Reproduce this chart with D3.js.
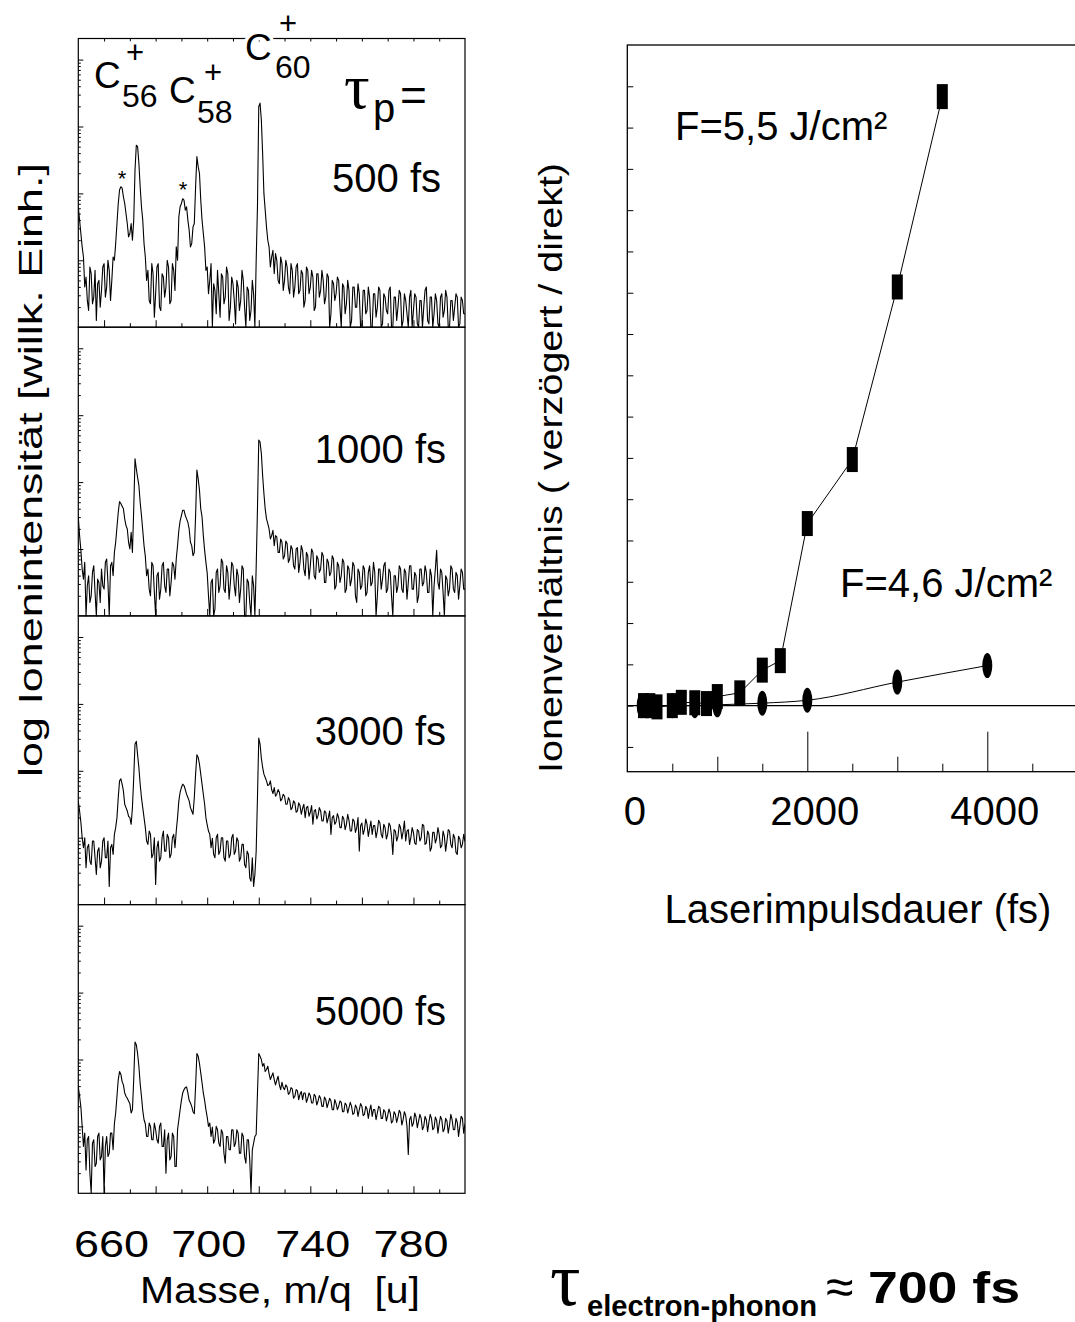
<!DOCTYPE html>
<html>
<head>
<meta charset="utf-8">
<script src="https://d3js.org/d3.v7.min.js"></script>
<style>
body { margin: 0; background: #fff; }
svg { display: block; font-family: "Liberation Sans", Arial, sans-serif; }
</style>
</head>
<body>
<div id="svg-holder"></div>
<script>
var width = 1075;
var height = 1322;

// ---- left: mass spectra, sampled every 0.5 u from 650 to 800 ----
var massStart = 650;
var massEnd = 800;
var massStep = 0.5;
var massLabels = [660, 700, 740, 780];
var pulseLabels = ["500 fs", "1000 fs", "3000 fs", "5000 fs"];

// log10 ion intensity (arb. units), one row = 10 u
var spec500 = [
  1.80,1.60, 1.40,1.20, 1.05,0.60, 0.75,0.40, 0.25,0.90, 0.80,0.35, 0.45,0.85, 0.10,0.65, 0.70,0.30, 0.55,0.90,
  0.95,0.45, 0.60,1.00, 0.85,0.40, 0.70,1.05, 1.00,1.25, 1.55,1.85, 2.05,2.10, 2.08,1.95, 1.85,1.70, 1.55,1.35,
  1.40,1.55, 1.30,1.60, 2.35,2.72, 2.70,2.45, 2.10,1.80, 1.60,1.25, 1.05,0.70, 0.85,0.40, 0.35,0.95, 0.80,0.15,
  0.50,0.90, 0.95,0.30, 0.25,0.80, 0.75,0.45, 0.60,1.00, 0.90,0.35, 0.40,0.95, 0.85,0.55, 1.20,1.00, 1.65,1.80,
  1.85,1.92, 1.90,1.75, 1.80,1.60, 1.45,1.20, 1.25,1.50, 1.55,2.10, 2.55,2.40, 2.30,1.90, 1.60,1.40, 1.20,0.85,
  0.90,0.50, 0.70,0.95, 0.00,0.65, 0.55,0.20, 0.85,0.50, 0.15,0.80, 0.75,0.35, 0.45,0.90, 0.80,0.10, 0.30,0.75,
  0.65,0.40, 0.05,0.70, 0.60,0.25, 0.40,0.85, 0.70,0.30, 0.00,0.60, 0.55,0.10, 0.25,0.70, 0.50,0.00, 1.00,1.80,
  3.30,3.35, 3.10,2.60, 2.00,1.75, 1.50,1.30, 1.20,0.90, 1.05,1.15, 0.80,1.10, 1.00,0.70, 0.65,1.05, 0.95,0.55,
  0.70,1.00, 0.90,0.60, 0.50,0.95, 0.85,0.45, 0.60,0.90, 0.95,0.50, 0.55,0.85, 0.80,0.30, 0.40,0.90, 0.85,0.50,
  0.60,0.85, 0.75,0.25, 0.30,0.80, 0.80,0.45, 0.55,0.85, 0.70,0.35, 0.45,0.80, 0.75,0.00, 0.20,0.70, 0.65,0.40,
  0.50,0.75, 0.70,0.30, 0.00,0.65, 0.60,0.20, 0.35,0.70, 0.55,0.00, 0.10,0.60, 0.60,0.30, 0.30,0.65, 0.50,0.00,
  0.05,0.55, 0.55,0.20, 0.25,0.60, 0.45,0.00, 0.00,0.50, 0.50,0.15, 0.30,0.60, 0.55,0.00, 0.05,0.50, 0.45,0.25,
  0.20,0.55, 0.60,0.00, 0.00,0.45, 0.45,0.10, 0.30,0.55, 0.50,0.00, 0.10,0.50, 0.40,0.20, 0.00,0.45, 0.55,0.00,
  0.25,0.50, 0.45,0.05, 0.00,0.40, 0.40,0.00, 0.30,0.55, 0.60,0.10, 0.05,0.45, 0.45,0.00, 0.20,0.50, 0.40,0.05,
  0.00,0.45, 0.50,0.15, 0.25,0.55, 0.45,0.00, 0.00,0.40, 0.40,0.10, 0.30,0.50, 0.45,0.00, 0.05,0.45, 0.40,0.20,
  0.20
];
var spec1000 = [
  1.48,1.20, 0.98,0.70, 0.55,0.80, 0.00,0.45, 0.60,0.20, 0.30,0.65, 0.75,0.35, 0.00,0.55, 0.50,0.20, 0.70,0.45,
  0.40,0.80, 0.85,0.50, 0.00,0.75, 0.80,0.60, 0.95,1.10, 1.33,1.55, 1.71,1.68, 1.64,1.60, 1.45,1.35, 1.30,1.10,
  1.00,1.25, 0.95,1.60, 2.35,2.20, 2.07,1.95, 1.70,1.50, 1.28,1.05, 0.89,0.60, 0.70,0.40, 0.30,0.80, 0.75,0.35,
  0.00,0.60, 0.65,0.25, 0.40,0.75, 0.80,0.45, 0.35,0.70, 0.70,0.30, 0.50,0.80, 0.75,0.55, 0.85,1.05, 1.28,1.42,
  1.50,1.58, 1.58,1.50, 1.45,1.40, 1.30,1.10, 1.05,0.90, 0.95,1.50, 2.18,2.05, 1.88,1.60, 1.48,1.20, 0.98,0.80,
  0.64,0.30, 0.00,0.50, 0.55,0.00, 0.10,0.65, 0.70,0.35, 0.45,0.85, 0.80,0.40, 0.35,0.75, 0.65,0.25, 0.50,0.80,
  0.75,0.45, 0.30,0.70, 0.60,0.20, 0.40,0.75, 0.70,0.00, 0.00,0.55, 0.50,0.20, 0.00,0.60, 0.45,0.00, 0.73,1.60,
  2.63,2.60, 2.43,2.10, 1.83,1.60, 1.45,1.38, 1.30,1.15, 1.20,1.28, 1.05,1.20, 1.18,0.95, 0.95,1.15, 1.10,0.85,
  0.90,1.12, 1.08,0.80, 0.85,1.05, 1.00,0.75, 0.70,1.00, 1.02,0.65, 0.80,1.05, 0.98,0.70, 0.60,0.95, 0.90,0.55,
  0.75,1.00, 0.95,0.60, 0.55,0.90, 0.85,0.65, 0.70,0.95, 0.90,0.50, 0.50,0.85, 0.80,0.60, 0.65,0.90, 0.85,0.40,
  0.45,0.80, 0.75,0.50, 0.60,0.85, 0.80,0.35, 0.40,0.75, 0.70,0.45, 0.55,0.80, 0.75,0.30, 0.20,0.70, 0.65,0.40,
  0.45,0.75, 0.70,0.30, 0.35,0.65, 0.75,0.45, 0.50,0.80, 0.65,0.00, 0.30,0.70, 0.70,0.40, 0.55,0.75, 0.80,0.35,
  0.40,0.70, 0.65,0.30, 0.00,0.60, 0.60,0.35, 0.45,0.75, 0.70,0.40, 0.35,0.70, 0.65,0.25, 0.50,0.75, 0.75,0.40,
  0.40,0.65, 0.60,0.20, 0.30,0.70, 0.70,0.45, 0.50,0.75, 0.65,0.35, 0.35,0.70, 0.60,0.00, 0.45,0.70, 0.98,0.50,
  0.40,0.70, 0.65,0.35, 0.00,0.60, 0.55,0.30, 0.40,0.75, 0.70,0.40, 0.35,0.65, 0.60,0.25, 0.45,0.70, 0.65,0.40,
  0.40
];
var spec3000 = [
  1.54,1.40, 1.23,1.00, 0.85,1.00, 0.55,0.85, 0.90,0.65, 0.60,0.95, 0.95,0.70, 0.45,0.80, 0.85,0.55, 0.65,0.95,
  1.00,0.70, 0.70,0.95, 0.27,0.85, 0.90,0.75, 1.05,1.15, 1.30,1.60, 1.85,1.88, 1.80,1.70, 1.50,1.45, 1.40,1.32,
  1.30,1.20, 1.45,1.90, 2.40,2.44, 2.24,2.05, 1.80,1.60, 1.45,1.30, 1.15,0.95, 0.90,1.10, 1.05,0.70, 0.75,1.00,
  0.30,0.85, 0.95,0.65, 0.70,1.00, 1.10,0.80, 0.80,1.05, 1.00,0.70, 0.75,1.00, 1.05,0.85, 1.10,1.30, 1.55,1.68,
  1.75,1.80, 1.78,1.72, 1.65,1.60, 1.55,1.45, 1.40,1.35, 1.60,1.95, 2.24,2.20, 2.10,1.95, 1.80,1.65, 1.50,1.30,
  1.19,1.10, 1.05,0.85, 0.99,0.75, 0.70,1.00, 1.05,0.75, 0.80,1.00, 1.00,0.70, 0.65,0.95, 0.95,0.70, 0.75,1.00,
  1.05,0.75, 0.80,1.00, 0.95,0.65, 0.70,0.90, 0.90,0.60, 0.55,0.80, 0.75,0.40, 0.35,0.70, 0.27,0.45, 0.80,1.60,
  2.49,2.40, 2.19,2.05, 1.95,1.90, 1.85,1.78, 1.79,1.85, 1.72,1.66, 1.75,1.62, 1.65,1.72, 1.68,1.55, 1.58,1.65,
  1.62,1.50, 1.50,1.60, 1.56,1.42, 1.45,1.55, 1.52,1.38, 1.40,1.52, 1.48,1.35, 1.44,1.50, 1.30,1.45, 1.47,1.32,
  1.38,1.48, 1.20,1.40, 1.42,1.28, 1.33,1.45, 1.40,1.25, 1.25,1.40, 1.38,1.22, 1.30,1.40, 1.05,1.30, 1.33,1.20,
  1.24,1.36, 1.30,1.15, 1.15,1.32, 1.28,1.12, 1.20,1.35, 1.26,1.10, 1.10,1.28, 1.25,1.08, 1.15,1.30, 0.80,1.18,
  1.22,1.05, 1.12,1.28, 1.20,1.02, 1.14,1.25, 1.05,1.18, 1.18,1.00, 1.10,1.26, 1.22,1.05, 1.00,1.20, 1.15,0.98,
  1.05,1.22, 1.18,1.02, 0.75,1.12, 1.10,0.95, 1.02,1.20, 1.15,0.98, 1.09,1.25, 0.95,1.10, 1.12,0.90, 1.00,1.15,
  1.08,0.92, 0.90,1.12, 1.10,0.95, 1.00,1.20, 1.18,0.90, 0.92,1.10, 1.05,0.80, 0.85,1.08, 1.08,0.92, 0.99,1.15,
  1.05,0.85, 0.88,1.10, 1.02,0.80, 0.95,1.12, 1.10,0.90, 0.85,1.05, 1.00,0.78, 0.75,1.02, 0.98,0.85, 0.90,1.05,
  0.94
];
var spec5000 = [
  1.59,1.45, 1.29,1.00, 0.70,0.90, 0.35,0.80, 0.85,0.30, 0.00,0.75, 0.80,0.40, 0.45,0.85, 0.90,0.50, 0.55,0.85,
  0.00,0.70, 0.85,0.55, 0.60,0.90, 0.90,0.65, 1.04,1.20, 1.45,1.70, 1.82,1.78, 1.67,1.62, 1.50,1.45, 1.42,1.38,
  1.34,1.20, 1.25,1.70, 2.26,2.22, 2.09,1.90, 1.64,1.45, 1.24,1.10, 1.04,0.85, 0.85,1.05, 1.00,0.80, 0.80,1.05,
  0.95,0.80, 0.75,1.00, 1.05,0.70, 0.70,0.95, 0.30,0.80, 0.90,0.50, 0.55,0.90, 0.85,0.40, 0.40,0.95, 1.10,1.25,
  1.39,1.50, 1.55,1.58, 1.59,1.50, 1.39,1.35, 1.30,1.22, 1.19,1.60, 2.09,2.05, 1.94,1.80, 1.65,1.50, 1.39,1.25,
  1.14,1.00, 1.05,0.85, 0.99,0.75, 0.80,1.00, 0.95,0.75, 0.70,0.95, 0.90,0.60, 0.45,0.85, 0.85,0.65, 0.65,0.95,
  0.95,0.70, 0.75,0.95, 0.90,0.60, 0.60,0.90, 0.85,0.55, 0.45,0.80, 0.80,0.50, 0.00,0.65, 0.75,0.85, 0.88,1.50,
  2.09,2.05, 2.00,1.90, 1.94,1.82, 1.85,1.90, 1.79,1.70, 1.75,1.80, 1.70,1.62, 1.69,1.75, 1.62,1.55, 1.66,1.58,
  1.55,1.62, 1.59,1.48, 1.50,1.58, 1.56,1.42, 1.45,1.55, 1.53,1.40, 1.48,1.52, 1.40,1.50, 1.50,1.36, 1.42,1.50,
  1.46,1.35, 1.35,1.48, 1.45,1.32, 1.38,1.46, 1.42,1.30, 1.30,1.44, 1.40,1.28, 1.35,1.42, 1.38,1.25, 1.25,1.40,
  1.34,1.25, 1.30,1.38, 1.36,1.22, 1.22,1.35, 1.32,1.20, 1.28,1.36, 1.30,1.18, 1.20,1.32, 1.28,1.15, 1.25,1.34,
  1.30,1.16, 1.18,1.30, 1.26,1.12, 1.24,1.32, 1.15,1.25, 1.25,1.10, 1.20,1.30, 1.28,1.12, 1.12,1.25, 1.22,1.08,
  1.16,1.26, 1.20,1.05, 1.08,1.22, 1.18,1.06, 1.14,1.24, 1.20,1.02, 1.10,1.22, 1.16,1.00, 0.58,1.10, 1.15,1.00,
  1.05,1.20, 1.14,0.98, 1.08,1.18, 1.12,0.95, 1.00,1.15, 1.10,0.92, 1.06,1.18, 1.12,0.95, 0.98,1.14, 1.09,0.90,
  1.04,1.15, 1.10,0.92, 0.96,1.12, 1.08,0.90, 1.02,1.18, 1.10,0.95, 0.95,1.12, 1.06,0.85, 1.00,1.15, 1.12,0.90,
  1.04
];
var spectra = [spec500, spec1000, spec3000, spec5000];

// ---- right: ratio (delayed / direct) vs. pulse duration ----
var durF55 = [180, 250, 330, 500, 600, 750, 880, 1000, 1250, 1500, 1700, 2000, 2500, 3000, 3500];
var ratioF55 = [0, 0, -0.03, 0, 0.08, 0.07, 0.05, 0.22, 0.31, 0.86, 1.09, 4.41, 5.96, 10.14, 14.75];
var durF46 = [160, 220, 500, 750, 1000, 1500, 2000, 3000, 4000];
var ratioF46 = [0, 0, 0, 0, 0.02, 0.06, 0.13, 0.57, 0.97];
var durLabels = [0, 2000, 4000];

var svg = d3.select('#svg-holder').append('svg')
            .attr("width", width)
            .attr("height", height);

// ================= left panels =================
var panelLeft = 78.3, panelRight = 465;
var panelTop = 38.5, panelH = 288.7;
var decades = panelH / 66.9;

var x = d3.scaleLinear().domain([massStart, massEnd]).range([panelLeft, panelRight]);
var y = d3.scaleLog().domain([1, Math.pow(10, decades)]).range([panelH, 0]);

var logMajor = [10, 100, 1000, 10000];
var logMinor = [];
[1, 10, 100, 1000].forEach(function(p) {
    [2, 3, 4, 5, 6, 7, 8, 9].forEach(function(j) {
        if (p * j < Math.pow(10, decades)) logMinor.push(p * j);
    });
});

svg.append("clipPath").attr("id", "panelclip")
    .append("rect")
    .attr("x", panelLeft).attr("y", 0)
    .attr("width", panelRight - panelLeft).attr("height", panelH + 1);

var line = d3.line()
    .x(function(d, i) { return x(massStart + i * massStep); })
    .y(function(d) { return y(Math.pow(10, d)); });

function thin(g) {
    g.select(".domain").remove();
    g.selectAll("line").attr("stroke", "#000").attr("stroke-width", 1);
}

var labelBase = [153.2, 136.1, 129.1, 120.4];
var labelEnd = [441, 446, 446, 446];

spectra.forEach(function(spec, k) {
    var g = svg.append("g").attr("transform", "translate(0," + (panelTop + k * panelH) + ")");

    g.append("path")
        .datum(spec)
        .attr("clip-path", "url(#panelclip)")
        .attr("fill", "none")
        .attr("stroke", "#000")
        .attr("stroke-width", 1.1)
        .attr("stroke-linejoin", "round")
        .attr("d", line);

    // bottom ticks pointing inward
    g.append("g").attr("transform", "translate(0," + panelH + ")")
        .call(d3.axisBottom(x).tickValues(d3.range(660, 800, 20)).tickSize(-7).tickFormat(""))
        .call(thin);
    g.append("g").attr("transform", "translate(0," + panelH + ")")
        .call(d3.axisBottom(x).tickValues(d3.range(670, 800, 20)).tickSize(-4).tickFormat(""))
        .call(thin);

    // log ticks on the left
    g.append("g").attr("transform", "translate(" + panelLeft + ",0)")
        .call(d3.axisLeft(y).tickValues(logMajor).tickSize(-5).tickFormat(""))
        .call(thin);
    g.append("g").attr("transform", "translate(" + panelLeft + ",0)")
        .call(d3.axisLeft(y).tickValues(logMinor).tickSize(-2.5).tickFormat(""))
        .call(thin);

    if (k == 0) {
        g.append("g")
            .call(d3.axisTop(x).tickValues(d3.range(660, 800, 10)).tickSize(-3).tickFormat(""))
            .call(thin);
    }

    g.append("rect")
        .attr("x", panelLeft).attr("y", 0)
        .attr("width", panelRight - panelLeft).attr("height", panelH)
        .attr("fill", "none").attr("stroke", "#000").attr("stroke-width", 1.2);

    g.append("text")
        .attr("x", labelEnd[k]).attr("y", labelBase[k])
        .attr("text-anchor", "end")
        .attr("font-size", 40)
        .text(pulseLabels[k]);

    if (k == 3) {
        var shift = [7, 1, 2, -3];
        var ax = g.append("g").attr("transform", "translate(0," + panelH + ")")
            .call(d3.axisBottom(x).tickValues(massLabels).tickSize(0));
        ax.select(".domain").remove();
        ax.selectAll("text")
            .attr("y", 63.4).attr("dy", 0)
            .attr("dx", function(d, i) { return shift[i]; })
            .attr("font-size", 37)
            .attr("font-family", "Liberation Sans, Arial, sans-serif")
            .attr("fill", "#000")
            .attr("textLength", 75)
            .attr("lengthAdjust", "spacingAndGlyphs");
    }
});

// peak labels with white halo (they cut the frame)
function halo(t) {
    return t.attr("stroke", "#fff").attr("stroke-width", 7)
            .attr("paint-order", "stroke").attr("fill", "#000");
}
function ionLabel(cx, cy, sub, subx, suby, plusx, plusy) {
    halo(svg.append("text").attr("x", cx).attr("y", cy).attr("font-size", 37).text("C"));
    halo(svg.append("text").attr("x", subx).attr("y", suby).attr("font-size", 32).text(sub));
    halo(svg.append("text").attr("x", plusx).attr("y", plusy).attr("font-size", 31).text("+"));
}
ionLabel(94, 88.3, "56", 122, 107, 126, 63);
ionLabel(169, 103.3, "58", 197, 123, 204, 83);
ionLabel(245, 60, "60", 275, 78, 279, 34);

svg.append("text").attr("x", 344).attr("y", 108)
    .attr("font-family", "Liberation Serif, serif").attr("font-size", 64).text("τ");
svg.append("text").attr("x", 373).attr("y", 122).attr("font-size", 40).text("p");
svg.append("text").attr("x", 400).attr("y", 111).attr("font-size", 46).text("=");

svg.append("text").attr("x", 122).attr("y", 186).attr("font-size", 22).attr("text-anchor", "middle").text("*");
svg.append("text").attr("x", 183).attr("y", 197).attr("font-size", 22).attr("text-anchor", "middle").text("*");

svg.append("text")
    .attr("transform", "translate(42,470) rotate(-90)")
    .attr("text-anchor", "middle")
    .attr("font-size", 34)
    .attr("textLength", 614)
    .attr("lengthAdjust", "spacingAndGlyphs")
    .text("log Ionenintensität [willk. Einh.]");

svg.append("text")
    .attr("x", 140).attr("y", 1303)
    .attr("font-size", 37)
    .attr("textLength", 280)
    .attr("lengthAdjust", "spacingAndGlyphs")
    .style("white-space", "pre")
    .text("Masse, m/q  [u]");

// ================= right chart =================
var rLeft = 627.3, rTop = 45, rBottom = 771.7;
var xR = d3.scaleLinear().domain([0, 5000]).range([rLeft, rLeft + 450]);
var yR = d3.scaleLinear().domain([-1.6, 16]).range([rBottom, rTop]);

var rg = svg.append("g");

rg.append("line")
    .attr("x1", rLeft).attr("x2", xR(5000))
    .attr("y1", yR(0)).attr("y2", yR(0))
    .attr("stroke", "#000").attr("stroke-width", 1.3);

rg.append("g").attr("transform", "translate(" + rLeft + ",0)")
    .call(d3.axisLeft(yR).tickValues(d3.range(-1, 16)).tickSize(-6).tickFormat(""))
    .call(thin);

[[[2000, 4000], -40], [[1000, 3000], -15], [[500, 1500, 2500, 3500, 4500], -8]].forEach(function(t) {
    rg.append("g").attr("transform", "translate(0," + rBottom + ")")
        .call(d3.axisBottom(xR).tickValues(t[0]).tickSize(t[1]).tickFormat(""))
        .call(thin);
});

var xlab = rg.append("g").attr("transform", "translate(0," + rBottom + ")")
    .call(d3.axisBottom(xR).tickValues(durLabels).tickSize(0).tickFormat(d3.format("d")));
xlab.select(".domain").remove();
xlab.selectAll("text")
    .attr("y", 53).attr("dy", 0).attr("dx", 7)
    .attr("font-size", 40)
    .attr("font-family", "Liberation Sans, Arial, sans-serif")
    .attr("fill", "#000");

rg.append("rect")
    .attr("x", rLeft).attr("y", rTop)
    .attr("width", xR(5000) - rLeft).attr("height", rBottom - rTop)
    .attr("fill", "none").attr("stroke", "#000").attr("stroke-width", 1.3);

var f55 = durF55.map(function(d, i) { return [d, ratioF55[i]]; });
var f46 = durF46.map(function(d, i) { return [d, ratioF46[i]]; });

rg.append("path").datum(f55)
    .attr("fill", "none").attr("stroke", "#000").attr("stroke-width", 1)
    .attr("d", d3.line().x(function(d) { return xR(d[0]); }).y(function(d) { return yR(d[1]); }));
rg.append("path").datum(f46)
    .attr("fill", "none").attr("stroke", "#000").attr("stroke-width", 1)
    .attr("d", d3.line().curve(d3.curveMonotoneX)
        .x(function(d) { return xR(d[0]); }).y(function(d) { return yR(d[1]); }));

rg.selectAll("ellipse").data(f46).enter().append("ellipse")
    .attr("cx", function(d) { return xR(d[0]); })
    .attr("cy", function(d) { return yR(d[1]); })
    .attr("rx", 5).attr("ry", 12.5)
    .attr("fill", "#000");

rg.selectAll("rect.sq").data(f55).enter().append("rect")
    .attr("class", "sq")
    .attr("x", function(d) { return xR(d[0]) - 5.5; })
    .attr("y", function(d) { return yR(d[1]) - 12.5; })
    .attr("width", 11).attr("height", 25)
    .attr("fill", "#000");

rg.append("text").attr("x", 675).attr("y", 140).attr("font-size", 40).text("F=5,5 J/cm²");
rg.append("text").attr("x", 840).attr("y", 597).attr("font-size", 40).text("F=4,6 J/cm²");

svg.append("text")
    .attr("transform", "translate(562,468) rotate(-90)")
    .attr("text-anchor", "middle")
    .attr("font-size", 34)
    .attr("textLength", 610)
    .attr("lengthAdjust", "spacingAndGlyphs")
    .text("Ionenverhältnis ( verzögert / direkt)");

svg.append("text")
    .attr("x", 858).attr("y", 923)
    .attr("text-anchor", "middle")
    .attr("font-size", 40)
    .text("Laserimpulsdauer (fs)");

// ================= bottom formula =================
svg.append("text").attr("x", 550).attr("y", 1305)
    .attr("font-family", "Liberation Serif, serif").attr("font-size", 76).text("τ");
svg.append("text").attr("x", 587).attr("y", 1316)
    .attr("font-size", 29).attr("font-weight", "bold")
    .attr("textLength", 230).attr("lengthAdjust", "spacingAndGlyphs")
    .text("electron-phonon");
svg.append("text").attr("x", 826).attr("y", 1304)
    .attr("font-size", 50).text("≈");
svg.append("text").attr("x", 868).attr("y", 1303)
    .attr("font-size", 44).attr("font-weight", "bold")
    .attr("textLength", 152).attr("lengthAdjust", "spacingAndGlyphs")
    .text("700 fs");
</script>
</body>
</html>
